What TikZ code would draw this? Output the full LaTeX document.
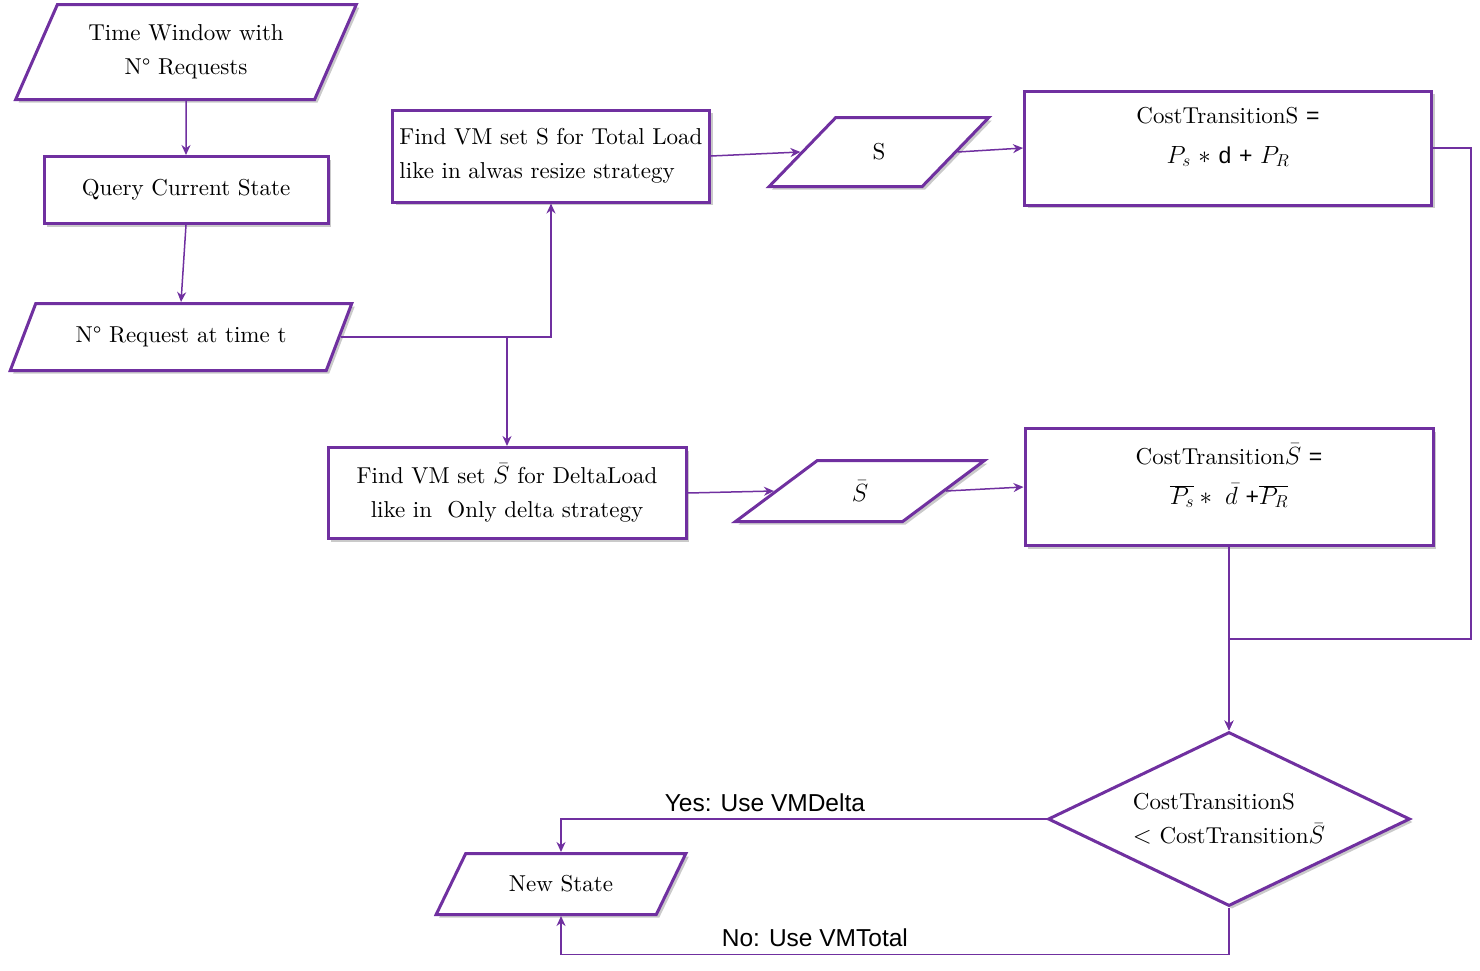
\documentclass[tikz,border=0pt]{standalone}
\usepackage{fontspec}
\setmainfont{lmroman10-regular.otf}[ItalicFont=lmroman10-italic.otf,BoldFont=lmroman10-bold.otf]
\setsansfont{Liberation Sans}
\usepackage{xcolor}
\usetikzlibrary{arrows.meta,shapes.geometric,shadows}
\definecolor{flowpurple}{RGB}{112,48,160}

\begin{document}
\begin{tikzpicture}[x=1pt,y=-1pt]
\tikzset{every node/.style={font=\fontsize{23}{34}\selectfont}}
\tikzset{shape box/.style={draw=flowpurple,line width=3pt,fill=white,drop shadow={opacity=0.35,fill=black!60,shadow xshift=3pt,shadow yshift=-3pt}}}
\tikzset{iobox/.style={shape box,trapezium,trapezium stretches=true,align=center,inner sep=2pt}}
\tikzset{procbox/.style={shape box,rectangle,align=center,inner sep=2pt}}
\tikzset{costbox/.style={procbox,font=\fontsize{23}{40}\selectfont}}
\tikzset{decbox/.style={shape box,diamond,aspect=2.1,inner sep=0pt,align=left}}
\tikzset{conn/.style={draw=flowpurple,line width=1.5pt,-{Stealth[length=10pt,width=9pt]}}}
\tikzset{answer/.style={font=\fontsize{24.5}{28}\selectfont\sffamily,above,inner sep=7pt}}

\useasboundingbox (0,0) rectangle (1480,970);

\node[iobox,trapezium left angle=61,trapezium right angle=119,minimum width=342pt,minimum height=95pt] (window) at (186,52) {Time Window with\\N° Requests};
\node[procbox,minimum width=284pt,minimum height=67pt] (query) at (186,190) {Query Current State};
\node[iobox,trapezium left angle=52,trapezium right angle=128,minimum width=342pt,minimum height=67pt] (request) at (181,337) {N° Request at time t};
\node[procbox,align=left,minimum width=317pt,minimum height=92pt] (findS) at (551,156) {Find VM set S for Total Load\\like in alwas resize strategy};
\node[iobox,trapezium left angle=58,trapezium right angle=122,minimum width=220pt,minimum height=69pt] (setS) at (879,152) {S};
\node[costbox,minimum width=407pt,minimum height=114pt] (costS) at (1228,148) {CostTransitionS \textsf{=}\\$P_s\ \ast$ \textsf{d} \textsf{+} $P_R$\\[-14pt]};
\node[procbox,minimum width=358pt,minimum height=91pt] (findSbar) at (507,493) {Find VM set $\bar{S}$ for DeltaLoad\\like in\ \ Only delta strategy};
\node[iobox,trapezium left angle=51,trapezium right angle=129,minimum width=250pt,minimum height=61pt] (setSbar) at (860,491) {$\bar{S}$};
\node[costbox,minimum width=408pt,minimum height=117pt] (costSbar) at (1229,487) {CostTransition$\bar{S}$ \textsf{=}\\$\overline{P_s}\ast\ \bar{d}$ \textsf{+}$\overline{P_R}$\\[-14pt]};
\node[decbox,minimum width=362pt,minimum height=174pt] (check) at (1229,819) {CostTransitionS\\$<$ CostTransition$\bar{S}$};
\node[iobox,trapezium left angle=51,trapezium right angle=129,minimum width=250pt,minimum height=61pt] (newstate) at (561,884) {New State};

\coordinate (merge) at (1229,639);

\draw[conn] (window.south) -- (query.north);
\draw[conn] (query.south) -- (request.north);
\draw[conn] (request.east) -| (findS.south);
\draw[conn] (request.east -| findSbar.north) -- (findSbar.north);
\draw[conn] (findS.east) -- (setS.west);
\draw[conn] (setS.east) -- (costS.west);
\draw[conn] (findSbar.east) -- (setSbar.west);
\draw[conn] (setSbar.east) -- (costSbar.west);
\draw[conn] (costS.east) -- ++(38,0) |- (merge) -- (check.north);
\draw[conn] (costSbar.south) -- (check.north);
\draw[conn] (check.west) -| node[answer,pos=0.29]{Yes: Use VMDelta} (newstate.north);
\draw[conn] (check.south) -- ++(0,47) -| node[answer,pos=0.31]{No: Use VMTotal} (newstate.south);

\end{tikzpicture}
\end{document}
